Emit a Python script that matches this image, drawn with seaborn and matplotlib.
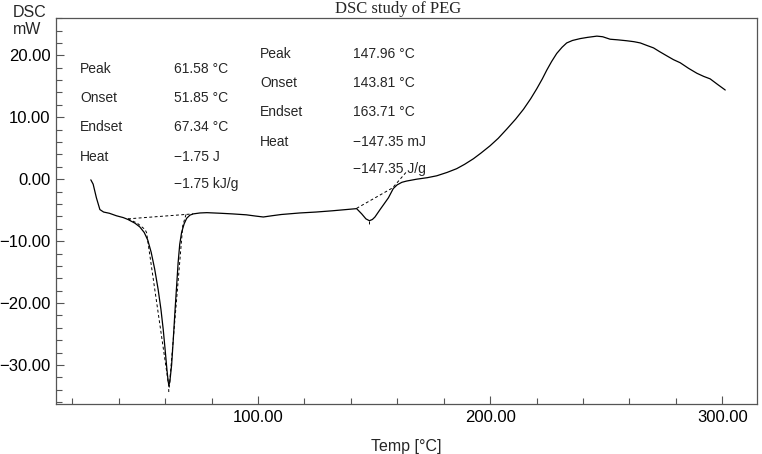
import matplotlib
matplotlib.use("Agg")
import matplotlib.pyplot as plt
import seaborn as sns
import pandas as pd
from matplotlib.ticker import MultipleLocator, FuncFormatter

# ---- data ----
temp = [28.0, 29.0, 30.4, 31.9, 33.5, 36.0, 39.0, 42.0, 44.0, 47.0, 49.1, 51.0,
        52.5, 54.0, 55.5, 57.0, 58.2, 59.2, 60.0, 60.8, 61.3, 61.6, 62.0, 62.8,
        63.5, 64.2, 65.0, 65.6, 66.3, 67.1, 68.2, 69.3, 70.7, 72.1, 75.0, 78.0,
        84.0, 89.0, 95.0, 99.0, 102.3, 106.0, 110.0, 118.0, 125.0, 132.0, 138.0,
        142.5, 144.7, 146.5, 148.0, 149.3, 150.4, 152.6, 154.5, 156.2, 158.3,
        160.0, 162.0, 164.0, 168.3, 173.0, 177.0, 181.5, 185.6, 189.0, 192.8,
        196.0, 200.0, 203.5, 207.2, 211.0, 214.4, 217.5, 220.1, 222.5, 224.4,
        226.5, 228.7, 231.0, 233.0, 235.5, 238.8, 242.0, 246.0, 248.5, 251.7,
        255.0, 258.9, 262.0, 264.7, 267.5, 270.4, 273.0, 276.2, 279.0, 281.9,
        285.5, 289.1, 292.0, 294.8, 298.0, 301.3]
dsc = [-0.1, -0.8, -3.0, -4.9, -5.3, -5.5, -5.9, -6.2, -6.5, -7.1, -7.7, -8.6,
       -9.8, -11.8, -14.5, -17.8, -21.0, -24.3, -27.5, -30.8, -32.6, -33.2, -32.8,
       -30.0, -26.0, -21.6, -17.0, -13.5, -10.5, -8.6, -7.2, -6.3, -5.8, -5.6,
       -5.45, -5.4, -5.5, -5.6, -5.75, -5.95, -6.1, -5.9, -5.7, -5.45, -5.3, -5.1,
       -4.9, -4.75, -5.6, -6.4, -6.7, -6.5, -6.1, -4.9, -3.9, -3.0, -1.5, -0.9,
       -0.5, -0.3, 0.0, 0.25, 0.55, 1.1, 1.7, 2.4, 3.3, 4.2, 5.4, 6.6, 8.1, 9.7,
       11.3, 13.0, 14.6, 16.2, 17.6, 19.0, 20.3, 21.3, 22.0, 22.4, 22.7, 22.9,
       23.1, 23.0, 22.6, 22.5, 22.35, 22.2, 22.0, 21.6, 21.2, 20.6, 19.9, 19.3,
       18.8, 17.9, 17.1, 16.6, 16.2, 15.3, 14.4]

# analysis construction lines (dashed)
base1_t = [44.0, 72.0]
base1_v = [-6.4, -5.6]
onset1_t = [44.0, 48.0, 51.3, 52.0, 61.5, 61.6]
onset1_v = [-6.4, -7.1, -8.1, -8.6, -33.2, -34.6]
endset1_t = [69.0, 67.6, 61.7]
endset1_v = [-5.7, -7.5, -34.0]
base2_t = [142.5, 158.0, 164.0]
base2_v = [-4.7, -1.4, 1.2]
mark2_t = [148.0, 148.0]
mark2_v = [-6.7, -7.6]

labels_left = ["Peak", "Onset", "Endset", "Heat", ""]
values_left = ["61.58 \u00b0C", "51.85 \u00b0C", "67.34 \u00b0C", "\u22121.75 J", "\u22121.75 kJ/g"]
labels_right = ["Peak", "Onset", "Endset", "Heat", ""]
values_right = ["147.96 \u00b0C", "143.81 \u00b0C", "163.71 \u00b0C", "\u2212147.35 mJ", "\u2212147.35 J/g"]

df = pd.DataFrame({"Temp": temp, "DSC": dsc})

sns.set_theme(style="ticks")
plt.rcParams["font.family"] = ["Liberation Sans", "DejaVu Sans"]

fig = plt.figure(figsize=(7.62, 4.54), dpi=100)
ax = fig.add_axes([0.0735, 0.110, 0.920, 0.850])

sns.lineplot(data=df, x="Temp", y="DSC", ax=ax, color="black", linewidth=0.9,
             sort=False, estimator=None)

dkw = dict(color="black", linewidth=0.7, linestyle=(0, (3, 2.5)))
ax.plot(base1_t, base1_v, **dkw)
ax.plot(onset1_t, onset1_v, **dkw)
ax.plot(endset1_t, endset1_v, **dkw)
ax.plot(base2_t, base2_v, **dkw)
ax.plot(mark2_t, mark2_v, **dkw)

ax.set_xlim(13, 315)
ax.set_ylim(-36.3, 26)
ax.xaxis.set_major_locator(MultipleLocator(100))
ax.xaxis.set_minor_locator(MultipleLocator(20))
ax.yaxis.set_major_locator(MultipleLocator(10))
ax.yaxis.set_minor_locator(MultipleLocator(2))
fmt = FuncFormatter(lambda v, p: f"{v:.2f}".replace("-", "\u2212"))
ax.xaxis.set_major_formatter(fmt)
ax.yaxis.set_major_formatter(fmt)
ax.tick_params(which="both", direction="in", colors="#555555", labelcolor="black",
               labelsize=12, width=0.8)
ax.tick_params(which="major", length=6, pad=4)
ax.tick_params(which="minor", length=4)
for s in ax.spines.values():
    s.set_visible(True)
    s.set_color("#555555")
    s.set_linewidth(0.9)

ax.set_xlabel("Temp [\u00b0C]", fontsize=11.5, labelpad=10)
ax.set_ylabel("")

ax.set_title("DSC study of PEG", fontsize=12, family="Liberation Serif", pad=4, x=0.488)
fig.text(0.017, 0.972, "DSC", fontsize=11.5, va="center", ha="left")
fig.text(0.017, 0.935, "mW", fontsize=11.5, va="center", ha="left")

ly = [17.8, 13.1, 8.4, 3.6, -0.8]
for i in range(5):
    ax.text(23.3, ly[i], labels_left[i], fontsize=10, va="center", ha="left")
    ax.text(63.8, ly[i], values_left[i], fontsize=10, va="center", ha="left")
ry = [20.2, 15.5, 10.8, 6.0, 1.6]
for i in range(5):
    ax.text(100.9, ry[i], labels_right[i], fontsize=10, va="center", ha="left")
    ax.text(141.0, ry[i], values_right[i], fontsize=10, va="center", ha="left")

fig.savefig("out.png", dpi=100)
